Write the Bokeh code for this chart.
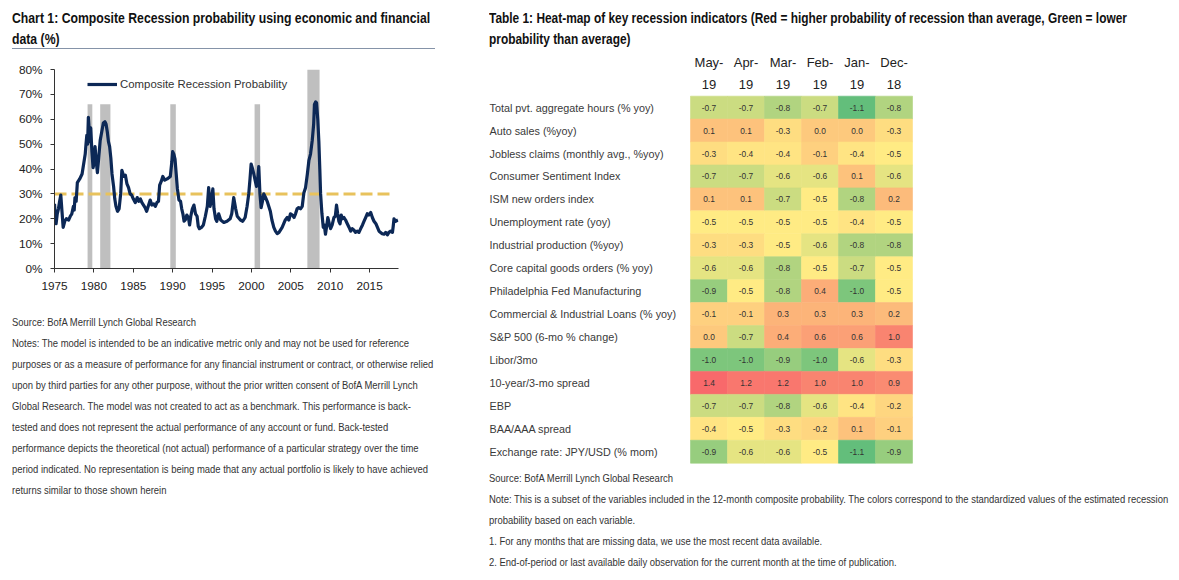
import numpy as np
from bokeh.plotting import figure
from bokeh.models import Div, Range1d, FixedTicker, PrintfTickFormatter, Legend, LegendItem, ColumnDataSource
from bokeh.layouts import row, column
from bokeh.core.properties import value
from bokeh.embed import file_html
from bokeh.resources import INLINE

# ---------------- data: composite recession probability (%) ----------------
years = [
    1975.0, 1975.1, 1975.2, 1975.35, 1975.5, 1975.65, 1975.8, 1975.95, 1976.1, 1976.3,
    1976.5, 1976.8, 1977.0, 1977.2, 1977.4, 1977.5, 1977.6, 1977.75, 1977.9, 1978.2,
    1978.5, 1978.7, 1978.9, 1979.0, 1979.1, 1979.2, 1979.3, 1979.4, 1979.5, 1979.6,
    1979.75, 1979.9, 1980.0, 1980.15, 1980.3, 1980.45, 1980.6, 1980.8, 1981.0, 1981.2,
    1981.4, 1981.55, 1981.7, 1981.85, 1982.0, 1982.15, 1982.3, 1982.5, 1982.65, 1982.8,
    1983.0, 1983.2, 1983.4, 1983.55, 1983.8, 1984.0, 1984.2, 1984.4, 1984.6, 1984.8,
    1985.0, 1985.25, 1985.5, 1985.7, 1985.9, 1986.1, 1986.3, 1986.5, 1986.7, 1986.9,
    1987.15, 1987.35, 1987.6, 1987.8, 1988.0, 1988.2, 1988.35, 1988.55, 1988.75, 1989.0,
    1989.3, 1989.5, 1989.7, 1989.9, 1990.0, 1990.15, 1990.3, 1990.45, 1990.6, 1990.8,
    1991.0, 1991.15, 1991.3, 1991.45, 1991.6, 1991.8, 1992.0, 1992.15, 1992.3, 1992.5,
    1992.7, 1992.9, 1993.1, 1993.25, 1993.4, 1993.65, 1993.9, 1994.15, 1994.4, 1994.57,
    1994.75, 1994.9, 1995.1, 1995.25, 1995.45, 1995.6, 1995.84, 1996.1, 1996.5, 1996.9,
    1997.3, 1997.5, 1997.75, 1998.0, 1998.2, 1998.6, 1998.9, 1999.2, 1999.45, 1999.66,
    1999.82, 1999.96, 2000.15, 2000.3, 2000.5, 2000.64, 2000.8, 2000.93, 2001.08, 2001.23,
    2001.4, 2001.57, 2001.8, 2002.0, 2002.2, 2002.4, 2002.6, 2002.84, 2003.05, 2003.27,
    2003.5, 2003.7, 2003.9, 2004.1, 2004.3, 2004.54, 2004.75, 2004.96, 2005.2, 2005.4,
    2005.6, 2005.8, 2006.0, 2006.23, 2006.45, 2006.66, 2006.87, 2007.1, 2007.3, 2007.5,
    2007.72, 2007.9, 2008.0, 2008.15, 2008.27, 2008.42, 2008.56, 2008.68, 2008.78, 2008.95,
    2009.12, 2009.25, 2009.4, 2009.55, 2009.7, 2009.88, 2010.05, 2010.25, 2010.47, 2010.65,
    2010.8, 2010.95, 2011.1, 2011.25, 2011.4, 2011.55, 2011.75, 2011.95, 2012.17, 2012.4,
    2012.6, 2012.8, 2013.0, 2013.2, 2013.45, 2013.65, 2013.87, 2014.1, 2014.3, 2014.5,
    2014.7, 2014.9, 2015.14, 2015.35, 2015.56, 2015.8, 2016.0, 2016.2, 2016.4, 2016.6,
    2016.84, 2017.05, 2017.26, 2017.45, 2017.68, 2017.9, 2018.0, 2018.1, 2018.3, 2018.6,
]
probability = [
    26, 21, 18, 22, 24, 27, 29.5, 23, 16.5, 19,
    20, 19.5, 21, 22, 25, 23.5, 28.5, 27, 34.5, 36,
    38, 42, 46, 50, 53.5, 50, 60.8, 56, 51, 56.5,
    47, 40.5, 42, 49, 43, 38.5, 44, 51.5, 55, 58.5,
    59, 58, 55, 51, 49, 44.5, 38, 33, 28, 25,
    23, 24, 30, 39.5, 37, 37.5, 34, 32.5, 30, 29.5,
    28, 26.5, 28.5, 27, 28, 26.5, 25.5, 24.5, 23, 25,
    27.5, 25.5, 26, 25, 26.5, 27, 33.5, 35, 37, 35.5,
    36, 36.5, 37, 43, 47, 46, 44, 38, 32, 27.5,
    27, 24, 22, 19, 19.5, 21.5, 20.5, 17.5, 21, 24,
    25.5, 22, 21, 17, 16, 16.5, 17.5, 21, 25, 32.5,
    25, 27, 32, 24, 20, 19, 22, 19.5, 18.5, 19,
    20, 22, 28.5, 24, 21, 19.5, 19, 20.5, 25, 30,
    36, 42, 40, 38, 35, 33, 36, 41, 30, 24.5,
    27, 30, 28.5, 27, 25, 23, 19.5, 16.5, 15, 14,
    14.5, 15.5, 16.5, 18, 19.5, 20.5, 19.5, 22, 21.5, 20.5,
    22, 24, 24.5, 24, 25, 30.5, 32.5, 38, 43.5, 46,
    51.5, 58, 66, 67, 66.5, 60, 51, 40, 30, 22,
    16.5, 17.5, 13.8, 17, 20.5, 18, 16, 17.5, 20.5, 21,
    25.5, 22, 19, 18, 21.5, 20, 20.5, 19.5, 18, 16.5,
    15, 16, 15.5, 14.5, 15, 14.5, 16, 17.5, 19, 20.5,
    22, 21.5, 22.5, 20.5, 19, 18, 16.5, 15, 14.5, 14,
    13.8, 14.5, 13.5, 14.5, 15, 14.5, 17, 20, 19, 19.5,
]
threshold = 30
threshold_span = [1975.0, 2017.9]
rec_start = [1979.2, 1980.8, 1989.7, 2000.4, 2007.1]
rec_end = [1979.8, 1982.1, 1990.4, 2001.1, 2008.65]
rec_top = [66, 66, 66, 66, 80]
x_ticks = [1975, 1980, 1985, 1990, 1995, 2000, 2005, 2010, 2015]
y_ticks = [0, 10, 20, 30, 40, 50, 60, 70, 80]

# ---------------- data: heat-map ----------------
month_labels = ["May-", "Apr-", "Mar-", "Feb-", "Jan-", "Dec-"]
year_labels = ["19", "19", "19", "19", "19", "18"]
indicators = [
    "Total pvt. aggregate hours (% yoy)",
    "Auto sales (%yoy)",
    "Jobless claims (monthly avg., %yoy)",
    "Consumer Sentiment Index",
    "ISM new orders index",
    "Unemployment rate (yoy)",
    "Industrial production (%yoy)",
    "Core capital goods orders (% yoy)",
    "Philadelphia Fed Manufacturing",
    "Commercial & Industrial Loans (% yoy)",
    "S&P 500 (6-mo % change)",
    "Libor/3mo",
    "10-year/3-mo spread",
    "EBP",
    "BAA/AAA spread",
    "Exchange rate: JPY/USD (% mom)",
]
heat_values = [
    [-0.7, -0.7, -0.8, -0.7, -1.1, -0.8],
    [0.1, 0.1, -0.3, 0.0, 0.0, -0.3],
    [-0.3, -0.4, -0.4, -0.1, -0.4, -0.5],
    [-0.7, -0.7, -0.6, -0.6, 0.1, -0.6],
    [0.1, 0.1, -0.7, -0.5, -0.8, 0.2],
    [-0.5, -0.5, -0.5, -0.5, -0.4, -0.5],
    [-0.3, -0.3, -0.5, -0.6, -0.8, -0.8],
    [-0.6, -0.6, -0.8, -0.5, -0.7, -0.5],
    [-0.9, -0.5, -0.8, 0.4, -1.0, -0.5],
    [-0.1, -0.1, 0.3, 0.3, 0.3, 0.2],
    [0.0, -0.7, 0.4, 0.6, 0.6, 1.0],
    [-1.0, -1.0, -0.9, -1.0, -0.6, -0.3],
    [1.4, 1.2, 1.2, 1.0, 1.0, 0.9],
    [-0.7, -0.7, -0.8, -0.6, -0.4, -0.2],
    [-0.4, -0.5, -0.3, -0.2, 0.1, -0.1],
    [-0.9, -0.6, -0.6, -0.5, -1.1, -0.9],
]

FONT = "Liberation Sans"
CSSFONT = "'Liberation Sans', Arial, sans-serif"

# ================= left: line chart =================
left_title = Div(
    text=("<div style=\"font-family:%s;font-weight:bold;font-size:14px;line-height:21px;"
          "color:#111;width:423px;height:41px;border-bottom:1px solid #8593a8;"
          "margin-left:4px;white-space:nowrap;\">"
          "<div style=\"transform:scaleX(0.874);transform-origin:left top;\">"
          "Chart 1: Composite Recession probability using economic and financial<br>data (%%)</div></div>") % CSSFONT,
    width=470, height=42, margin=0)

p = figure(width=440, height=250, output_backend="svg", toolbar_location=None,
           x_range=Range1d(1975, 2018.67), y_range=Range1d(0, 80),
           min_border_left=46, min_border_right=50, min_border_top=19, min_border_bottom=32)
p.outline_line_color = None
p.xgrid.visible = False
p.ygrid.visible = False
p.background_fill_color = "white"
p.border_fill_color = "white"

p.quad(left=rec_start, right=rec_end, bottom=0, top=rec_top, fill_color="#BFBFBF", line_color=None)
p.line(threshold_span, [threshold, threshold], line_color="#E8C25C", line_width=3,
       line_dash="12 5")
r_line = p.line(years, probability, line_color="#0C2856", line_width=3.2, line_join="round")

for ax in (p.xaxis[0], p.yaxis[0]):
    ax.axis_line_color = "#333333"
    ax.major_tick_line_color = "#333333"
    ax.major_tick_out = 4
    ax.major_tick_in = 0
    ax.minor_tick_line_color = None
    ax.major_label_text_font = FONT
    ax.major_label_text_font_size = "11.8px"
    ax.major_label_text_color = "#222222"
p.xaxis[0].ticker = FixedTicker(ticks=x_ticks)
p.yaxis[0].ticker = FixedTicker(ticks=y_ticks)
p.yaxis[0].formatter = PrintfTickFormatter(format="%d%%")
p.xaxis[0].major_label_standoff = 9
p.yaxis[0].major_label_standoff = 8

legend = Legend(items=[LegendItem(label="Composite Recession Probability", renderers=[r_line])],
                location=(33, 175), padding=0, margin=0, spacing=0, glyph_width=30,
                glyph_height=18, label_standoff=3, border_line_color=None,
                background_fill_alpha=0, label_text_font=FONT, label_text_font_size="11.4px",
                label_text_color="#333333")
p.add_layout(legend, "center")

NOTE_STYLE = ("font-family:%s;font-size:10.5px;line-height:21px;color:#333;white-space:nowrap;"
              "transform:scaleX(0.9);transform-origin:left top;" % CSSFONT)

left_notes_lines = [
    "Source: BofA Merrill Lynch Global Research",
    "Notes: The model is intended to be an indicative metric only and may not be used for reference",
    "purposes or as a measure of performance for any financial instrument or contract, or otherwise relied",
    "upon by third parties for any other purpose, without the prior written consent of BofA Merrill Lynch",
    "Global Research. The model was not created to act as a benchmark. This performance is back-",
    "tested and does not represent the actual performance of any account or fund. Back-tested",
    "performance depicts the theoretical (not actual) performance of a particular strategy over the time",
    "period indicated. No representation is being made that any actual portfolio is likely to have achieved",
    "returns similar to those shown herein",
]
left_notes = Div(
    text=("<div style=\"padding-top:12px;margin-left:4px;\"><div style=\"%s\">" % NOTE_STYLE)
    + "<br>".join(left_notes_lines) + "</div></div>",
    width=470, height=272, margin=0)

left_col = column(left_title, p, left_notes, spacing=0)

# ================= right: heat-map =================
right_title = Div(
    text=("<div style=\"font-family:%s;font-weight:bold;font-size:14px;line-height:21px;"
          "color:#111;margin-left:11px;white-space:nowrap;\">"
          "<div style=\"transform:scaleX(0.85);transform-origin:left top;\">"
          "Table 1: Heat-map of key recession indicators (Red = higher probability of recession than average, Green = lower"
          "<br>probability than average)</div></div>") % CSSFONT,
    width=693, height=42, margin=0)

vals = np.array(heat_values, dtype=float)
lo, mid, hi = vals.min(), float(np.median(vals)), vals.max()
green, yellow, red = (99, 190, 123), (255, 235, 132), (248, 105, 107)


def cell_color(v):
    if v <= mid:
        t, a, b = (v - lo) / (mid - lo), green, yellow
    else:
        t, a, b = (v - mid) / (hi - mid), yellow, red
    return "#%02x%02x%02x" % tuple(int(round(a[i] + (b[i] - a[i]) * t)) for i in range(3))


n_rows, n_cols = len(indicators), len(month_labels)
cx, cy, cc, ct = [], [], [], []
for r in range(n_rows):
    for c in range(n_cols):
        v = heat_values[r][c]
        cx.append(c + 0.5)
        cy.append(n_rows - r - 0.5)
        cc.append(cell_color(v))
        ct.append("%.1f" % v)
cells = ColumnDataSource(dict(x=cx, y=cy, color=cc, label=ct))

COL_PX, ROW_PX = 37.0, 22.94
HW, HH = 693, 418
x0 = -212.0 / COL_PX
y0 = -5.3 / ROW_PX
h = figure(width=HW, height=HH, output_backend="svg", toolbar_location=None,
           x_range=Range1d(x0, x0 + HW / COL_PX), y_range=Range1d(y0, y0 + HH / ROW_PX),
           x_axis_location=None, y_axis_location=None,
           min_border_left=0, min_border_right=0, min_border_top=0, min_border_bottom=0)
h.outline_line_color = None
h.xgrid.visible = False
h.ygrid.visible = False

h.rect("x", "y", width=1, height=1, source=cells, fill_color="color", line_color="color",
       line_width=0.6)
h.text("x", "y", text="label", source=cells, text_align="center", text_baseline="middle",
       text_font=value(FONT), text_font_size="8.4px", text_color="#333333")

label_x = x0 + 11.0 / COL_PX
h.text([label_x] * n_rows, [n_rows - r - 0.5 for r in range(n_rows)], text=indicators,
       text_align="left", text_baseline="middle", text_font=value(FONT),
       text_font_size="10.8px", text_color="#3a3a3a")
col_centers = [c + 0.5 for c in range(n_cols)]
h.text(col_centers, [n_rows + 1.47] * n_cols, text=month_labels, text_align="center",
       text_baseline="middle", text_font=value(FONT), text_font_size="13px", text_color="#222222")
h.text(col_centers, [n_rows + 0.51] * n_cols, text=year_labels, text_align="center",
       text_baseline="middle", text_font=value(FONT), text_font_size="13px", text_color="#222222")

right_notes_lines = [
    "Source: BofA Merrill Lynch Global Research",
    "Note: This is a subset of the variables included in the 12-month composite probability. The colors correspond to the standardized values of the estimated recession",
    "probability based on each variable.",
    "1. For any months that are missing data, we use the most recent data available.",
    "2. End-of-period or last available daily observation for the current month at the time of publication.",
]
right_notes = Div(
    text=("<div style=\"margin-left:11px;\"><div style=\"%s\">" % NOTE_STYLE)
    + "<br>".join(right_notes_lines) + "</div></div>",
    width=693, height=104, margin=0)

right_col = column(right_title, h, right_notes, spacing=0)

page = row(left_col, right_col, spacing=0, margin=(8, 0, 0, 8))

with open("out.html", "w") as f:
    f.write(file_html(page, INLINE))
